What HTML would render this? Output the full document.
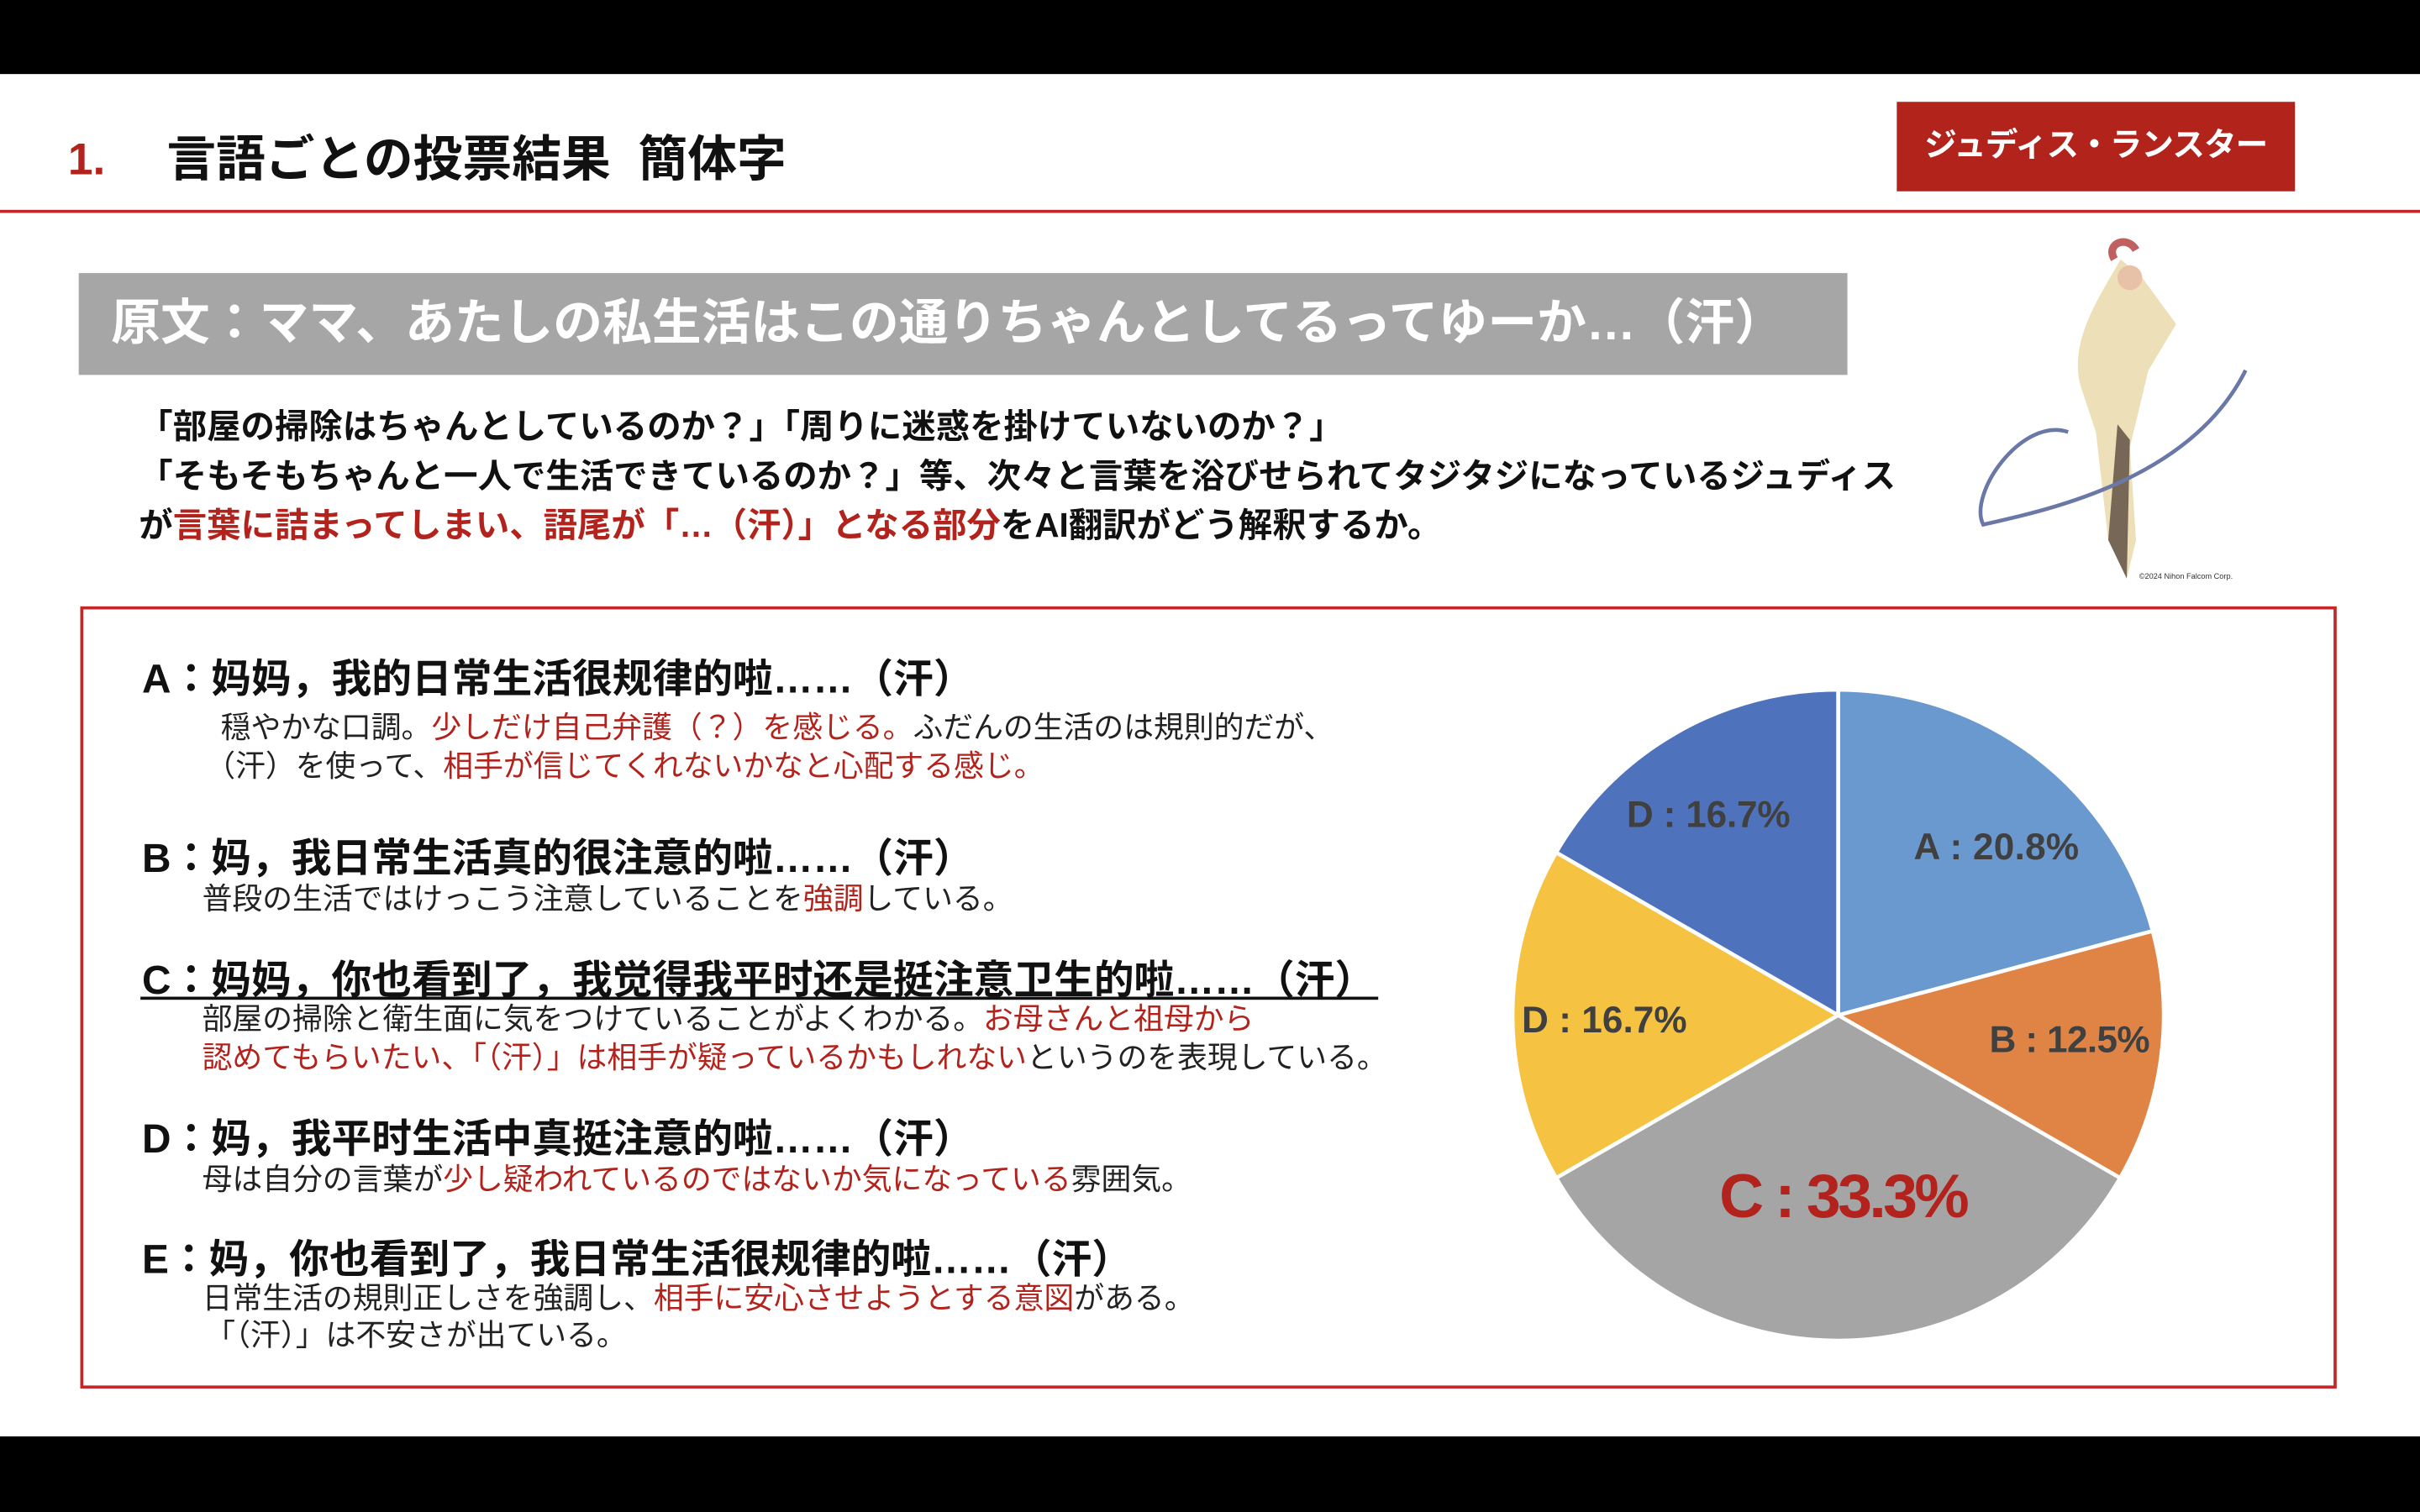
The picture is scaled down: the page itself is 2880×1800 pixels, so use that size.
<!DOCTYPE html>
<html><head><meta charset="utf-8"><style>
html,body{margin:0;padding:0;background:#fff;}
body{width:2880px;height:1800px;overflow:hidden;position:relative;}
#w{position:absolute;left:0;top:0;width:1568px;height:980px;transform:scale(1.836735);transform-origin:0 0;font-family:"Liberation Sans","Noto Sans CJK JP",sans-serif;}
.t{position:absolute;white-space:nowrap;line-height:1;}
.b{font-weight:bold;}
.r{color:#b3231d;}
.h{font-size:26px;font-weight:bold;color:#111;}
.s{font-size:19.5px;color:#222;}
</style></head><body><div id="w">
<div style="position:absolute;left:0;top:0;width:1568px;height:48px;background:#000"></div>
<div style="position:absolute;left:0;top:931px;width:1568px;height:49px;background:#000"></div>
<div class="t b r" style="left:44px;top:90px;font-size:29px">1.</div>
<div class="t b" style="left:108px;top:87px;font-size:32px;color:#111">言語ごとの投票結果&nbsp;&nbsp;簡体字</div>
<div style="position:absolute;left:1229px;top:66px;width:258px;height:58px;background:#b1231b"></div>
<div class="t b" style="left:1229px;width:258px;text-align:center;top:84px;font-size:21px;color:#fff;letter-spacing:-0.5px">ジュディス・ランスター</div>
<div style="position:absolute;left:0;top:136px;width:1568px;height:2px;background:#c0282a"></div>
<div style="position:absolute;left:51px;top:177px;width:1146px;height:66px;background:#a6a6a6"></div>
<div class="t b" style="left:72px;top:193px;font-size:32px;color:#fff">原文：ママ、あたしの私生活はこの通りちゃんとしてるってゆーか…（汗）</div>
<div class="t b" style="left:90px;top:266px;font-size:22px;color:#111">「部屋の掃除はちゃんとしているのか？」「周りに迷惑を掛けていないのか？」</div>
<div class="t b" style="left:90px;top:298px;font-size:22px;color:#111">「そもそもちゃんと一人で生活できているのか？」等、次々と言葉を浴びせられてタジタジになっているジュディス</div>
<div class="t b" style="left:90px;top:330px;font-size:22px;color:#111">が<span class="r">言葉に詰まってしまい、語尾が「…（汗）」となる部分</span>をAI翻訳がどう解釈するか。</div>
<svg style="position:absolute;left:1270px;top:150px" width="200" height="235" viewBox="0 0 200 235">
<path d="M104 18 C92 40 70 70 78 100 L88 130 L96 200 L108 225 L114 200 L110 140 L122 90 L140 60 L118 30Z" fill="#d8b860" opacity="0.45"/>
<path d="M102 125 L96 200 L108 225 L110 135Z" fill="#5a4a3e" opacity="0.8"/>
<path d="M185 90 C150 160 60 180 15 190 C5 170 40 120 70 130" fill="none" stroke="#6a78a8" stroke-width="2.5"/>
<circle cx="110" cy="30" r="8" fill="#e8c2a8"/>
<path d="M100 18 C94 8 108 2 114 12" fill="none" stroke="#c06060" stroke-width="5"/>
</svg>
<div class="t" style="left:1386px;top:372px;font-size:5px;color:#333">©2024 Nihon Falcom Corp.</div>
<div style="position:absolute;left:52px;top:393px;width:1458px;height:503px;border:2px solid #c0282a"></div>
<div class="t h" style="left:92px;top:427px">A：妈妈，我的日常生活很规律的啦……（汗）</div>
<div class="t s" style="left:143px;top:463px">穏やかな口調。<span class="r">少しだけ自己弁護（？）を感じる。</span>ふだんの生活のは規則的だが、</div>
<div class="t s" style="left:133px;top:488px">（汗）を使って、<span class="r">相手が信じてくれないかなと心配する感じ。</span></div>
<div class="t h" style="left:92px;top:543px">B：妈，我日常生活真的很注意的啦……（汗）</div>
<div class="t s" style="left:131px;top:574px">普段の生活ではけっこう注意していることを<span class="r">強調</span>している。</div>
<div class="t h" style="left:92px;top:622px">C：妈妈，你也看到了，我觉得我平时还是挺注意卫生的啦……（汗）</div>
<div style="position:absolute;left:91px;top:646px;width:802px;height:2px;background:#111"></div>
<div class="t s" style="left:131px;top:652px">部屋の掃除と衛生面に気をつけていることがよくわかる。<span class="r">お母さんと祖母から</span></div>
<div class="t s" style="left:131px;top:677px"><span class="r">認めてもらいたい、「（汗）」は相手が疑っているかもしれない</span>というのを表現している。</div>
<div class="t h" style="left:92px;top:725px">D：妈，我平时生活中真挺注意的啦……（汗）</div>
<div class="t s" style="left:131px;top:756px">母は自分の言葉が<span class="r">少し疑われているのではないか気になっている</span>雰囲気。</div>
<div class="t h" style="left:92px;top:803px">E：妈，你也看到了，我日常生活很规律的啦……（汗）</div>
<div class="t s" style="left:131px;top:833px">日常生活の規則正しさを強調し、<span class="r">相手に安心させようとする意図</span>がある。</div>
<div class="t s" style="left:133px;top:857px">「（汗）」は不安さが出ている。</div>
<svg style="position:absolute;left:0;top:0" width="1568" height="980">
<g stroke="#fff" stroke-width="2.5" stroke-linejoin="round">
<path d="M1191 658 L1191 447 A211 211 0 0 1 1394.8 603.4Z" fill="#6a99d0"/>
<path d="M1191 658 L1394.8 603.4 A211 211 0 0 1 1373.7 763.5Z" fill="#e08446"/>
<path d="M1191 658 L1373.7 763.5 A211 211 0 0 1 1008.3 763.5Z" fill="#a5a5a5"/>
<path d="M1191 658 L1008.3 763.5 A211 211 0 0 1 1008.3 552.5Z" fill="#f5c242"/>
<path d="M1191 658 L1008.3 552.5 A211 211 0 0 1 1191 447Z" fill="#4f72bd"/>
</g>
<g font-family="Liberation Sans, sans-serif" font-weight="bold" fill="#404040" font-size="24">
<text x="1240" y="557" textLength="107">A : 20.8%</text>
<text x="1054" y="536" textLength="106">D : 16.7%</text>
<text x="1289" y="682" textLength="104">B : 12.5%</text>
<text x="986" y="669" textLength="107">D : 16.7%</text>
<text x="1114" y="789" font-size="40" fill="#b3231d" textLength="162">C : 33.3%</text>
</g>
</svg>
</div></body></html>
